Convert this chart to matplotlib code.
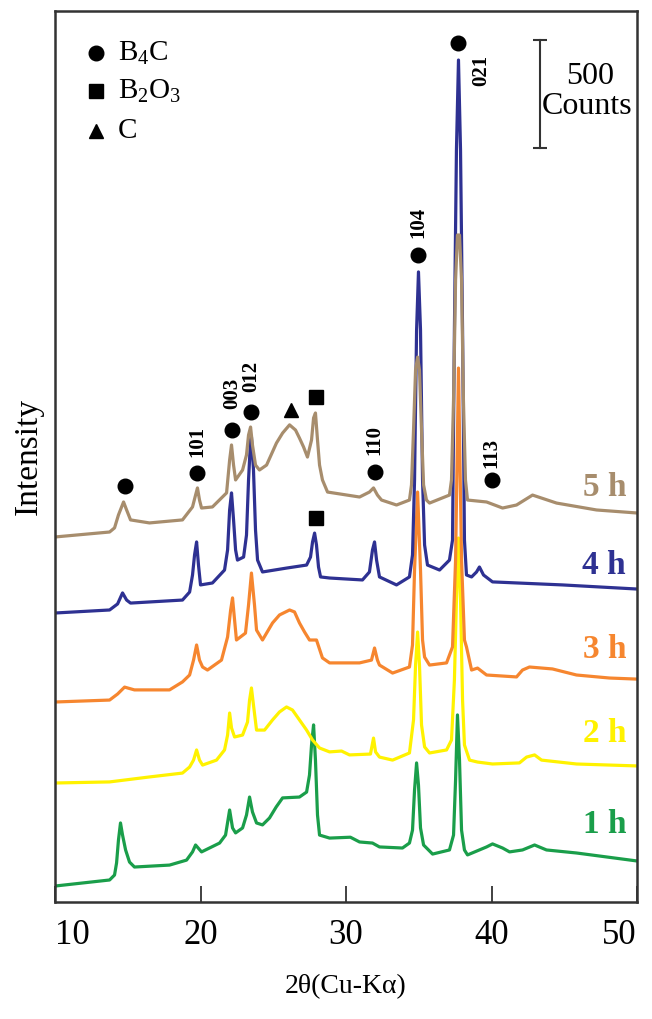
import matplotlib
matplotlib.use('Agg')
import matplotlib.pyplot as plt

# ---------------- data (2θ in degrees, intensity in counts, patterns stacked) ----------------
x_1h = [10, 13.75, 14.09, 14.23, 14.36, 14.5, 14.64, 14.85, 15.12, 15.46, 17.87, 19.04, 19.45, 19.66,
        20.07, 21.31, 21.72, 22.0, 22.2, 22.41, 22.89, 23.16, 23.37, 23.57, 23.85, 24.26, 24.74, 25.2, 25.64,
        26.8, 27.29, 27.49, 27.63, 27.77, 27.9, 28.04, 28.18, 28.87, 30.3, 30.93, 31.82, 32.3, 33.88,
        34.36, 34.57, 34.71, 34.85, 34.98, 35.12, 35.33, 35.95, 37.11, 37.39, 37.53, 37.66, 37.8, 37.94,
        38.14, 38.35, 39.66, 40.07, 40.76, 41.24, 42.13, 42.96, 43.78, 45.84, 50]
y_1h = [74, 102, 125, 181, 287, 366, 310, 241, 185, 162, 171, 194, 232, 264,
        232, 273, 310, 426, 343, 320, 343, 403, 486, 417, 366, 357, 389, 440, 482,
        486, 509, 588, 727, 820, 657, 403, 310, 296, 300, 278, 273, 255, 250,
        273, 333, 519, 644, 542, 343, 264, 222, 241, 310, 565, 866, 657, 333,
        241, 218, 255, 269, 250, 232, 241, 264, 241, 227, 190]

x_2h = [10, 13.75, 16.49, 18.76, 19.25, 19.52, 19.73, 19.93, 20.14, 21.1, 21.65, 21.86, 22.0, 22.13,
        22.34, 22.89, 23.23, 23.37, 23.5, 23.64, 23.85, 24.4, 24.95, 25.43, 25.91, 26.32, 26.8, 27.29,
        27.7, 28.18, 28.87, 29.69, 30.24, 31.68, 31.89, 32.03, 32.3, 33.2, 34.36, 34.64, 34.78, 34.92,
        35.05, 35.19, 35.4, 35.74, 36.91, 37.25, 37.45, 37.59, 37.73, 37.87, 38.01, 38.14, 38.49, 39.04,
        40.07, 41.92, 42.41, 42.96, 43.44, 45.84, 50]
y_2h = [551, 556, 579, 597, 625, 657, 704, 657, 634, 657, 704, 773, 875, 806,
        764, 773, 833, 935, 991, 912, 796, 796, 843, 880, 903, 889, 843, 796,
        750, 713, 695, 699, 681, 685, 759, 695, 671, 657, 690, 843, 1097, 1250,
        1097, 820, 718, 690, 704, 750, 1028, 1398, 1685, 1398, 935, 727, 657, 648,
        639, 644, 671, 681, 657, 639, 630]

x_3h = [10, 13.75, 14.3, 14.78, 15.46, 17.87, 18.76, 19.25, 19.52, 19.73, 19.93, 20.14, 20.48, 21.44,
        21.86, 22.07, 22.2, 22.34, 22.47, 23.09, 23.3, 23.5, 23.71, 23.85, 24.26, 24.95, 25.43, 26.12,
        26.46, 26.8, 27.15, 27.49, 27.97, 28.38, 28.87, 30.93, 31.75, 31.96, 32.16, 32.3, 33.2, 34.36,
        34.57, 34.71, 34.92, 35.12, 35.26, 35.4, 35.74, 36.91, 37.32, 37.53, 37.73, 37.94, 38.14, 38.28,
        38.63, 39.04, 39.66, 41.72, 42.13, 42.61, 44.19, 45.84, 48.11, 50]
y_3h = [926, 935, 963, 995, 982, 982, 1019, 1051, 1120, 1190, 1120, 1088, 1074, 1120,
        1227, 1352, 1408, 1306, 1213, 1245, 1375, 1523, 1375, 1259, 1213, 1292, 1329, 1352,
        1343, 1292, 1250, 1213, 1213, 1130, 1107, 1107, 1120, 1176, 1120, 1097, 1060, 1088,
        1190, 1537, 1898, 1537, 1213, 1134, 1097, 1107, 1181, 1583, 2472, 1583, 1213, 1181,
        1074, 1083, 1051, 1042, 1074, 1088, 1079, 1051, 1037, 1032]

x_4h = [10, 13.75, 14.3, 14.64, 14.92, 15.19, 18.76, 19.25, 19.45, 19.59, 19.73, 19.86, 20.0, 20.82,
        21.65, 21.86, 22.0, 22.13, 22.27, 22.41, 22.54, 22.96, 23.16, 23.3, 23.44, 23.5, 23.64, 23.78,
        23.92, 24.26, 25.91, 27.29, 27.56, 27.7, 27.84, 27.97, 28.11, 28.25, 28.87, 31.13, 31.61, 31.82,
        31.96, 32.1, 32.3, 33.47, 34.36, 34.57, 34.71, 34.85, 34.98, 35.12, 35.26, 35.4, 35.6, 36.43,
        37.11, 37.32, 37.45, 37.59, 37.73, 37.87, 38.01, 38.14, 38.28, 38.63, 38.97, 39.17, 39.45, 40.07,
        44.88, 50]
y_4h = [1338, 1352, 1380, 1431, 1398, 1384, 1398, 1435, 1514, 1607, 1667, 1560, 1468, 1477,
        1537, 1630, 1815, 1894, 1769, 1630, 1583, 1597, 1699, 1954, 2139, 2153, 2000, 1722,
        1583, 1528, 1546, 1560, 1597, 1667, 1708, 1653, 1551, 1505, 1500, 1491, 1528, 1630,
        1667, 1583, 1505, 1468, 1505, 1607, 1954, 2648, 2917, 2648, 1954, 1653, 1560, 1537,
        1583, 1676, 2648, 3482, 3898, 3482, 2648, 1676, 1514, 1505, 1528, 1551, 1514, 1482,
        1468, 1449]

x_5h = [10, 13.75, 14.09, 14.36, 14.71, 14.92, 15.19, 16.49, 18.76, 19.45, 19.66, 19.79, 19.93, 20.07,
        20.82, 21.79, 22.0, 22.13, 22.27, 22.41, 22.89, 23.16, 23.3, 23.44, 23.57, 23.78, 24.05, 24.54,
        25.22, 25.64, 26.12, 26.53, 26.8, 27.08, 27.35, 27.63, 27.77, 27.9, 28.04, 28.18, 28.38, 28.73,
        30.93, 31.61, 31.89, 32.16, 32.44, 33.47, 34.36, 34.5, 34.64, 34.78, 34.92, 35.05, 35.19, 35.33,
        35.53, 35.74, 37.11, 37.25, 37.39, 37.53, 37.66, 37.8, 37.94, 38.07, 38.21, 38.35, 39.66, 40.76,
        41.72, 42.82, 44.47, 47.22, 50]
y_5h = [1690, 1713, 1732, 1792, 1852, 1815, 1769, 1755, 1769, 1829, 1884, 1917, 1861, 1824,
        1829, 1894, 2046, 2116, 2023, 1954, 2000, 2070, 2162, 2199, 2116, 2023, 2000, 2023,
        2125, 2171, 2209, 2185, 2148, 2107, 2060, 2139, 2241, 2264, 2139, 2023, 1954, 1898,
        1875, 1898, 1917, 1884, 1861, 1838, 1861, 1931, 2185, 2463, 2523, 2463, 2185, 1931,
        1861, 1847, 1884, 1954, 2324, 2880, 3088, 3088, 2880, 2324, 1954, 1861, 1852, 1824,
        1838, 1884, 1847, 1815, 1801]

series_x = [x_1h, x_2h, x_3h, x_4h, x_5h]
series_y = [y_1h, y_2h, y_3h, y_4h, y_5h]
series_labels = ['1 h', '2 h', '3 h', '4 h', '5 h']
series_label_y = [357, 782, 1167, 1560, 1917]

# phase markers
b4c_x = [14.78, 19.79, 22.13, 23.5, 31.96, 34.98, 37.73, 40.0]
b4c_y = [1926, 1986, 2185, 2269, 1991, 2996, 3977, 1954]
b2o3_x = [27.97, 27.97]
b2o3_y = [2338, 1778]
c_x = [26.19]
c_y = [2278]

# Miller indices
hkl_labels = ['101', '003', '012', '110', '104', '021', '113']
hkl_x = [19.79, 22.2, 23.5, 31.96, 34.98, 39.31, 40.0]
hkl_y = [2130, 2357, 2431, 2139, 3144, 3852, 2079]

legend_labels = [r'B$_{\mathrm{4}}$C', r'B$_{\mathrm{2}}$O$_{\mathrm{3}}$', 'C']
legend_y = [3931, 3755, 3570]

scale_counts = 500
scale_bottom = 3491

xticks = [10, 20, 30, 40, 50]

# ---------------- style ----------------
colors = ['#1a9e4a', '#fff200', '#f6862f', '#2e3192', '#a78d6d']
SERIF = 'Liberation Serif'
plt.rcParams['font.family'] = SERIF
plt.rcParams['mathtext.fontset'] = 'custom'
plt.rcParams['mathtext.rm'] = SERIF
plt.rcParams['mathtext.it'] = SERIF + ':italic'
plt.rcParams['mathtext.bf'] = SERIF + ':bold'

fig = plt.figure(figsize=(6.52, 10.19), dpi=100)
ax = fig.add_axes([0.0844, 0.1148, 0.8926, 0.8744])

for xs, ys, col in zip(series_x, series_y, colors):
    ax.plot(xs, ys, color=col, lw=2.3, solid_joinstyle='round', solid_capstyle='round', zorder=2)

for lab, ly, col in zip(series_labels, series_label_y, colors):
    ax.text(49.25, ly, lab, color=col, fontsize=24, fontweight='bold', ha='right', va='center')

ax.plot(b4c_x, b4c_y, 'o', color='black', ms=10.5, ls='none', zorder=4)
ax.plot(b2o3_x, b2o3_y, 's', color='black', ms=9.5, ls='none', zorder=4)
ax.plot(c_x, c_y, '^', color='black', ms=10, ls='none', zorder=4)

for lab, hx, hy in zip(hkl_labels, hkl_x, hkl_y):
    ax.text(hx, hy, lab, rotation=90, fontsize=15, fontweight='bold', ha='center', va='center')

# legend (manual, as in the figure)
leg_markers = ['o', 's', '^']
leg_ms = [10.5, 9.5, 10]
for m, s, lab, ly in zip(leg_markers, leg_ms, legend_labels, legend_y):
    ax.plot([12.85], [ly], m, color='black', ms=s)
    ax.text(14.3, ly, lab, fontsize=21, ha='left', va='center')

# scale bar
ax.plot([43.3, 43.3], [scale_bottom, scale_bottom + scale_counts], color='#333333', lw=1.5)
ax.plot([43.3, 43.3], [scale_bottom, scale_bottom + scale_counts], '_', color='#333333', ms=10, mew=1.5)
ax.text(46.75, scale_bottom + 330, str(scale_counts), fontsize=23, ha='center', va='center')
ax.text(46.6, scale_bottom + 190, 'Counts', fontsize=23, ha='center', va='center')

ax.set_xlim(10, 50)
ax.set_ylim(0, 4125)
ax.set_yticks([])
ax.set_xticks(xticks)
ax.set_xticklabels([str(t) for t in xticks])
ax.tick_params(axis='x', direction='in', length=11.5, width=1.3, color='#333333', labelsize=25, pad=12)
tl = ax.get_xticklabels()
tl[0].set_ha('left')
tl[0].set_x(-0.1)
tl[-1].set_ha('right')
for sp in ax.spines.values():
    sp.set_linewidth(1.8)
    sp.set_color('#333333')

ax.set_xlabel('2θ(Cu-Kα)', fontsize=20, labelpad=16)
ax.set_ylabel('Intensity', fontsize=24, labelpad=8)

fig.savefig('out.png', dpi=100)
